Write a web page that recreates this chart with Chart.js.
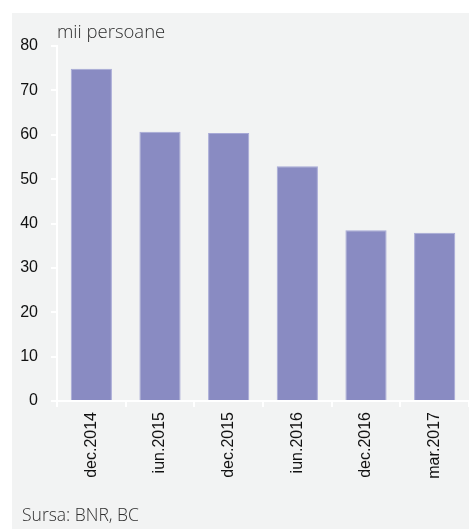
<!DOCTYPE html>
<html>
<head>
<meta charset="utf-8">
<script src="https://cdn.jsdelivr.net/npm/chart.js@4/dist/chart.umd.min.js"></script>
<style>
  html, body { margin: 0; padding: 0; background: #ffffff; }
  #wrap { width: 469px; height: 529px; position: relative; }
</style>
</head>
<body>
<div id="wrap"><canvas id="chart" width="469" height="529"></canvas></div>
<script>
// data
const categories = ['dec.2014', 'iun.2015', 'dec.2015', 'iun.2016', 'dec.2016', 'mar.2017'];
const persons = [74.9, 60.7, 60.4, 52.9, 38.5, 37.9];
const yTicks = [0, 10, 20, 30, 40, 50, 60, 70, 80];
const unitLabel = 'mii persoane';
const sourceLabel = 'Sursa: BNR, BC';

const tickFont = '"Liberation Sans", Arial, sans-serif';

// grey panel plus the unit and source captions
const panelPlugin = {
    id: 'panel',
    beforeDraw(chart) {
        const c = chart.ctx;
        c.save();
        c.fillStyle = '#f2f3f3';
        c.fillRect(12, 13, chart.width - 12, chart.height - 13);
        c.restore();
    },
    afterDraw(chart) {
        const c = chart.ctx;
        c.save();
        c.fillStyle = '#2e2e2e';
        c.textBaseline = 'middle';
        c.font = '300 18.5px "Open Sans", sans-serif';
        c.fillText(unitLabel, 57, 33);
        c.font = '300 17.5px "Open Sans", sans-serif';
        c.fillText(sourceLabel, 22, 516);
        c.restore();
    }
};

new Chart(document.getElementById('chart'), {
    type: 'bar',
    data: {
        labels: categories,
        datasets: [{
            data: persons,
            backgroundColor: '#898bc2',
            borderColor: '#a7a9d6',
            borderWidth: 1,
            barPercentage: 0.6,
            categoryPercentage: 1
        }]
    },
    options: {
        responsive: false,
        animation: false,
        layout: { padding: { top: 46, right: 0, left: 0, bottom: 0 } },
        plugins: {
            legend: { display: false },
            tooltip: { enabled: false }
        },
        scales: {
            x: {
                grid: { display: true, drawOnChartArea: false, color: '#ffffff', lineWidth: 2, tickLength: 6, offset: true },
                border: { color: '#ffffff', width: 2 },
                ticks: {
                    color: '#111111',
                    font: { family: tickFont, size: 16 },
                    maxRotation: 90,
                    minRotation: 90,
                    padding: 5
                },
                afterFit: (scale) => { scale.height = 128; }
            },
            y: {
                min: 0,
                max: 80,
                afterBuildTicks: (scale) => { scale.ticks = yTicks.map(v => ({ value: v })); },
                grid: { display: true, drawOnChartArea: false, color: '#ffffff', lineWidth: 2, tickLength: 6 },
                border: { color: '#ffffff', width: 2 },
                ticks: {
                    color: '#111111',
                    font: { family: tickFont, size: 16 },
                    padding: 13
                },
                afterFit: (scale) => { scale.width = 57; }
            }
        }
    },
    plugins: [panelPlugin]
});
</script>
</body>
</html>
